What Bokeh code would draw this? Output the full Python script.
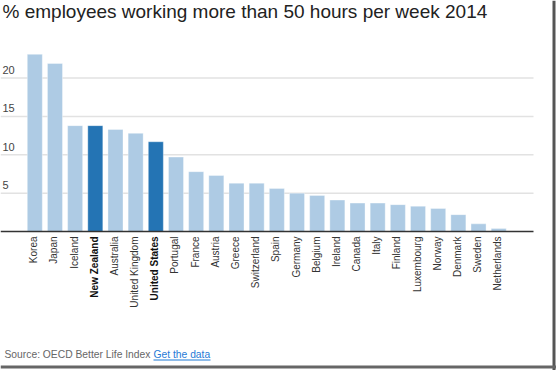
import math
from bokeh.plotting import figure
from bokeh.models import ColumnDataSource, Range1d, Label, BoxAnnotation, Span
from bokeh.core.properties import value
from bokeh.embed import file_html
from bokeh.resources import INLINE

# ---- data ----
countries = ["Korea", "Japan", "Iceland", "New Zealand", "Australia", "United Kingdom",
             "United States", "Portugal", "France", "Austria", "Greece", "Switzerland",
             "Spain", "Germany", "Belgium", "Ireland", "Canada", "Italy", "Finland",
             "Luxembourg", "Norway", "Denmark", "Sweden", "Netherlands"]
values = [23.1, 21.9, 13.8, 13.8, 13.3, 12.8, 11.7, 9.7, 7.8, 7.3, 6.3, 6.3,
          5.6, 5.0, 4.7, 4.1, 3.7, 3.7, 3.5, 3.3, 3.0, 2.2, 1.0, 0.4]
highlighted = ["New Zealand", "United States"]
y_ticks = [5, 10, 15, 20]
y_tick_labels = ["5", "10", "15", "20"]
title_text = "% employees working more than 50 hours per week 2014"
source_text = "Source: OECD Better Life Index"
link_text = "Get the data"

LIGHT = "#aecbe4"
DARK = "#2474b4"
FONT = "Liberation Sans"

W, H = 556, 370
XPX = 20.17   # px per category
X0 = 34.3     # px of first bar centre
YPX = 7.67    # px per unit
Y0 = 231      # px of baseline from top

x_start = -X0 / XPX
x_end = (W - X0) / XPX
y_end = Y0 / YPX
y_start = -(H - Y0) / YPX
grid_end = (533 - X0) / XPX

idx = list(range(len(countries)))
colors = [DARK if c in highlighted else LIGHT for c in countries]
styles = ["bold" if c in highlighted else "normal" for c in countries]
lab_colors = ["#111111" if c in highlighted else "#333333" for c in countries]

src = ColumnDataSource(dict(x=idx, top=values, name=countries, color=colors,
                            style=styles, lcolor=lab_colors, zero=[0] * len(idx)))

p = figure(width=W, height=H, output_backend="svg", toolbar_location=None,
           x_axis_type=None, y_axis_type=None, min_border=0,
           x_range=Range1d(x_start, x_end), y_range=Range1d(y_start, y_end))
p.outline_line_color = None
p.grid.visible = False
p.background_fill_color = "white"
p.border_fill_color = "white"

# gridlines
p.segment(x0=[x_start] * len(y_ticks), x1=[grid_end] * len(y_ticks), y0=y_ticks, y1=y_ticks,
          line_color="#e2e2e2", line_width=1.5)

# bars
p.vbar(x="x", top="top", bottom=0, width=0.745, source=src, fill_color="color",
       line_color="white", line_alpha=0.35, line_width=1)

# baseline
p.segment(x0=[x_start], x1=[grid_end], y0=[0], y1=[0], line_color="#333333", line_width=1.5)

# y tick labels
p.text(x=[x_start] * len(y_ticks), y=y_ticks, text=y_tick_labels, x_offset=2, y_offset=-8,
       text_font=value(FONT), text_font_size="11px", text_color="#444444",
       text_align="left", text_baseline="alphabetic")

# category labels
p.text(x="x", y="zero", text="name", source=src, angle=math.pi / 2, y_offset=5, x_offset=-1,
       text_font=value(FONT), text_font_size="10px", text_font_style="style",
       text_color="lcolor", text_align="right", text_baseline="middle")

# title
p.add_layout(Label(x=2, y=H - 11, x_units="screen", y_units="screen", text=title_text,
                   text_font=FONT, text_font_size="19px", text_color="#222222",
                   text_baseline="alphabetic"))

# source + link
p.add_layout(Label(x=4, y=H - 354, x_units="screen", y_units="screen", text=source_text,
                   text_font=FONT, text_font_size="10.3px", text_color="#666666",
                   text_baseline="alphabetic"))
p.add_layout(Label(x=153, y=H - 354, x_units="screen", y_units="screen", text=link_text,
                   text_font=FONT, text_font_size="10.3px", text_color="#1f7ad6",
                   text_baseline="alphabetic"))
p.add_layout(BoxAnnotation(left=153, right=210, bottom=H - 360, top=H - 359, left_units="screen",
                           right_units="screen", bottom_units="screen", top_units="screen",
                           fill_color="#1f7ad6", fill_alpha=1, line_color=None))

# window frame edges
p.add_layout(Span(location=(553.5 - X0) / XPX, dimension="height", line_color="#555555", line_width=3))
p.add_layout(Span(location=(Y0 - 366.5) / YPX, dimension="width", line_color="#666666", line_width=3))

open("out.html", "w").write(file_html(p, INLINE))
